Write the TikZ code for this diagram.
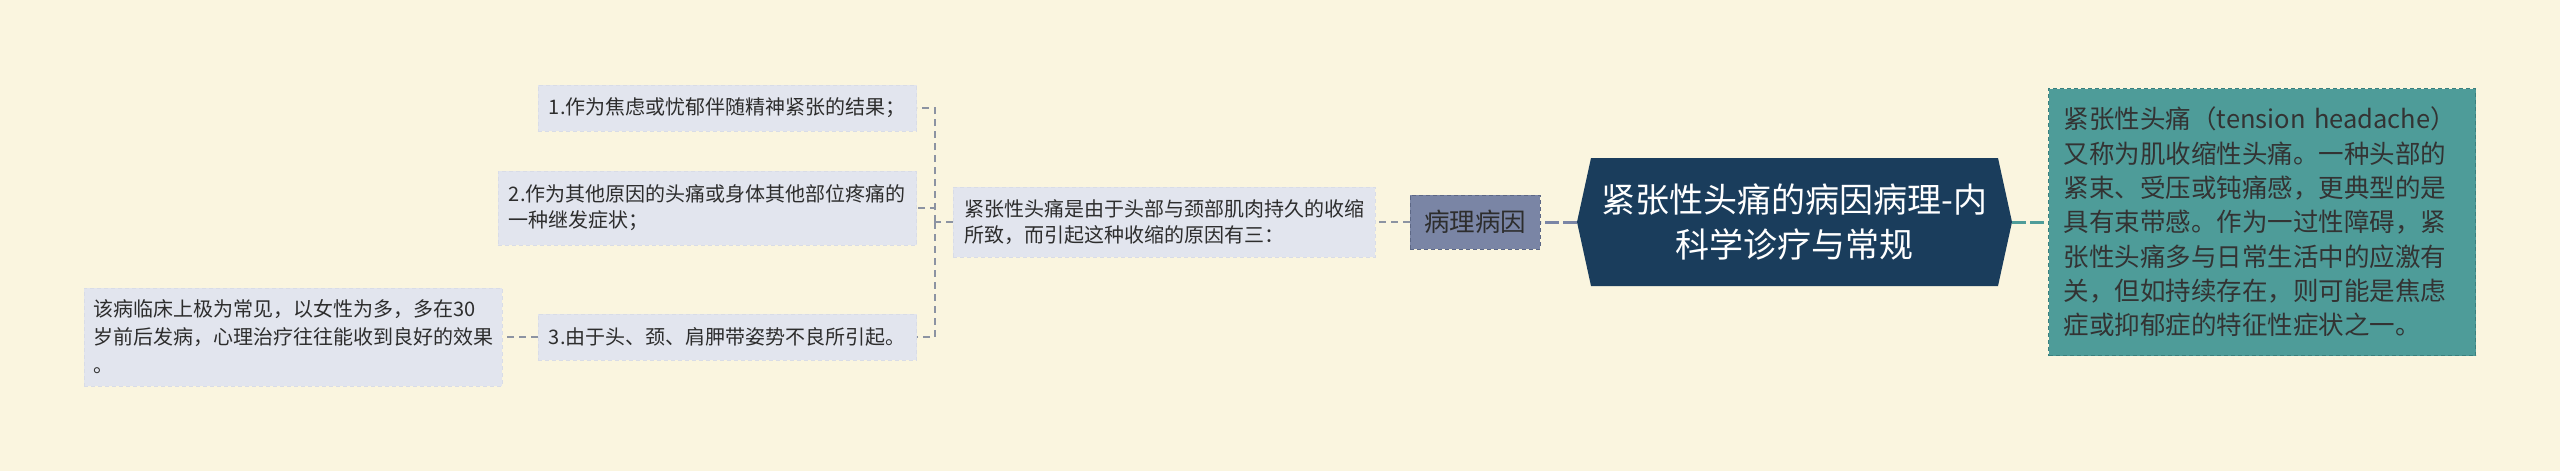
\documentclass[tikz,border=0pt]{standalone}
\usepackage{fontspec}
\setmainfont{Noto Sans CJK SC}
\usepackage{xcolor}
\usetikzlibrary{positioning}

\definecolor{paper}{RGB}{250,245,223}
\definecolor{navy}{RGB}{26,61,92}
\definecolor{teal}{RGB}{78,156,153}
\definecolor{tealline}{RGB}{58,128,126}
\definecolor{slate}{RGB}{122,133,165}
\definecolor{slateline}{RGB}{92,103,133}
\definecolor{leaffill}{RGB}{226,229,238}
\definecolor{leafline}{RGB}{216,220,231}
\definecolor{wire}{RGB}{140,147,162}
\definecolor{ink}{RGB}{45,45,45}

\begin{document}
\begin{tikzpicture}[x=1pt, y=-1pt,
  title/.style={align=center, text=white, minimum width=435pt, minimum height=128pt, font=\fontsize{34}{45}\selectfont},
  branch/.style={draw=slateline, dash pattern=on 4pt off 3pt, line width=1pt, fill=slate, text=ink, inner xsep=14pt, minimum height=54pt, font=\fontsize{25.5}{34}\selectfont},
  detail/.style={draw=tealline, dash pattern=on 4pt off 3pt, line width=1.2pt, fill=teal, text={black!80}, align=left, text width=397pt, inner xsep=15pt, minimum height=267pt, font=\fontsize{25.5}{34.3}\selectfont},
  leaf/.style={draw=leafline, dash pattern=on 4pt off 3pt, line width=0.8pt, fill=leaffill, text=ink, align=left, inner xsep=11pt, font=\fontsize{20}{26}\selectfont},
  trunk/.style={line width=3pt, dash pattern=on 14pt off 4pt},
  link/.style={draw=wire, line width=1.5pt, dash pattern=on 7pt off 5pt}
]
\useasboundingbox[fill=paper] (0,0) rectangle (2560,471);

% Nodes
\fill[navy] (1577,222) -- (1591,158) -- (1998,158) -- (2012,222) -- (1998,286) -- (1591,286) -- cycle;
\node[title] (main) at (1794.5,222) {紧张性头痛的病因病理-内\\科学诊疗与常规};

\node[branch, left=36pt of main] (cause) {病理病因};
\node[detail, right=36pt of main] (desc) {紧张性头痛（tension~headache）\\又称为肌收缩性头痛。一种头部的\\紧束、受压或钝痛感，更典型的是\\具有束带感。作为一过性障碍，紧\\张性头痛多与日常生活中的应激有\\关，但如持续存在，则可能是焦虑\\症或抑郁症的特征性症状之一。};

\node[leaf, minimum height=70pt, left=34pt of cause] (mid) {紧张性头痛是由于头部与颈部肌肉持久的收缩\\所致，而引起这种收缩的原因有三：};

\node[leaf, minimum width=377pt, minimum height=46pt, left=36pt of mid, yshift=114pt] (c1) {1.作为焦虑或忧郁伴随精神紧张的结果；};
\node[leaf, minimum height=74pt, left=36pt of mid, yshift=14pt] (c2) {2.作为其他原因的头痛或身体其他部位疼痛的\\一种继发症状；};
\node[leaf, minimum width=377pt, minimum height=46pt, left=36pt of mid, yshift=-115pt] (c3) {3.由于头、颈、肩胛带姿势不良所引起。};

\node[leaf, minimum height=98pt, inner xsep=9pt, left=35pt of c3, font=\fontsize{20}{28}\selectfont] (note) {该病临床上极为常见，以女性为多，多在30\\岁前后发病，心理治疗往往能收到良好的效果\\。};

\coordinate (fork) at ([xshift=-18pt]mid.west);

% Edges
\draw[trunk, draw=slate] (main.west) -- (cause.east);
\draw[trunk, draw=teal] (main.east) -- (desc.west);
\draw[link] (cause.west) -- (mid.east);
\draw[link] (mid.west) -- (fork);
\draw[link] (fork) |- (c1.east);
\draw[link] (fork) |- (c2.east);
\draw[link] (fork) |- (c3.east);
\draw[link] (c3.west) -- (note.east);

\end{tikzpicture}
\end{document}
